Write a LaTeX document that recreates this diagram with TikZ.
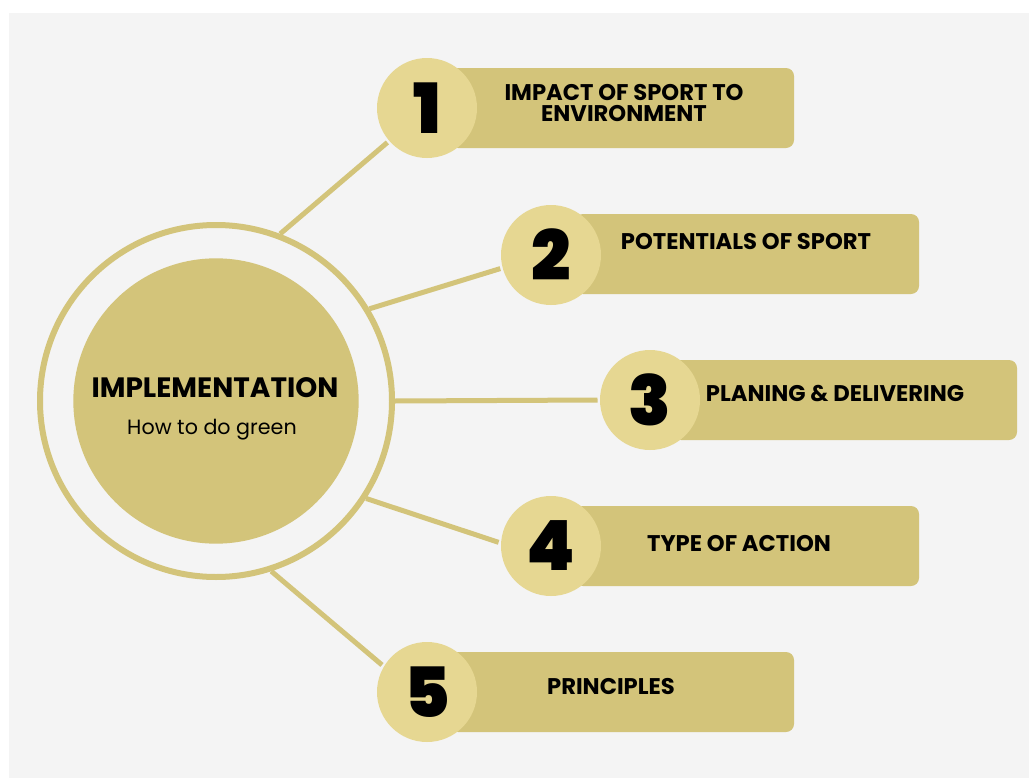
\documentclass[tikz,border=0pt]{standalone}
\usepackage{fontspec}
\setmainfont{Poppins}
\IfFontExistsTF{Poppins Black}
  {\newfontfamily\numfont{Poppins Black}}
  {\newfontfamily\numfont{Poppins}[UprightFont=*-Bold]}
\usepackage{tikz}
\definecolor{fondo}{HTML}{F4F4F4}
\definecolor{oro}{HTML}{D3C47A}
\definecolor{oroclaro}{HTML}{E6D792}

\begin{document}
\begin{tikzpicture}[   % opciones por defecto
      x=0.75pt,          % 1 unidad = 1 pixel de la imagen
      y=-0.75pt,         % eje y hacia abajo
      line width=3.75pt, % grosor de las conexiones
      draw=oro
    ]
    \tikzstyle{caja}=[fill=oro, rounded corners=6pt, minimum width=258pt,
                      minimum height=60pt, inner sep=0pt];
    \tikzstyle{numero}=[circle, fill=oroclaro, minimum size=75pt, inner sep=0pt,
                        font=\numfont\fontsize{52}{52}\selectfont];
    \tikzstyle{texto}=[font=\bfseries\fontsize{17}{16}\selectfont, align=center,
                       inner sep=0pt];
    %
    % fondo gris
    \useasboundingbox (0,0) rectangle (1029,778);
    \fill[white] (0,0) rectangle (1029,778);
    \fill[fondo] (9,13) rectangle (1029,778);
    %
    % circulo central
    \node [circle, draw=oro, line width=4.5pt, minimum size=264pt,
           inner sep=0pt] (centro) at (216,401) {};
    \node [circle, fill=oro, minimum size=214pt, inner sep=0pt] (nucleo) at (216,401) {};
    \node [font=\bfseries\fontsize{21}{22}\selectfont, inner sep=0pt] (titulo)
      at (215,388) {IMPLEMENTATION};
    \node [font=\fontsize{15.5}{17}\selectfont, inner sep=0pt] (subtitulo)
      at (212,430) {How to do green};
    %
    % cajas de los puntos
    \node [caja] (caja1) at (622,108) {};
    \node [caja] (caja2) at (747,254) {};
    \node [caja] (caja3) at (845,400) {};
    \node [caja] (caja4) at (747,546) {};
    \node [caja] (caja5) at (622,692) {};
    %
    % circulos con numero
    \node [numero] (n1) at (427,108) {1};
    \node [numero] (n2) at (551,255) {2};
    \node [numero] (n3) at (650,400) {3};
    \node [numero] (n4) at (551,546) {4};
    \node [numero] (n5) at (427,692) {5};
    %
    % textos de las cajas
    \node [texto] (t1) at (624,103) {IMPACT OF SPORT TO\\ENVIRONMENT};
    \node [texto] (t2) at (746,242) {POTENTIALS OF SPORT};
    \node [texto] (t3) at (835,394) {PLANING \& DELIVERING};
    \node [texto] (t4) at (739,544) {TYPE OF ACTION};
    \node [texto] (t5) at (611,687) {PRINCIPLES};
    %
    % conexiones centro - numero
    \foreach \a/\n/\b in {69/1/221, 31/2/195, 0/3/180, -33/4/176, -72/5/149} {
      \draw (centro.\a) -- (n\n.\b);
    }
  \end{tikzpicture}
\end{document}
